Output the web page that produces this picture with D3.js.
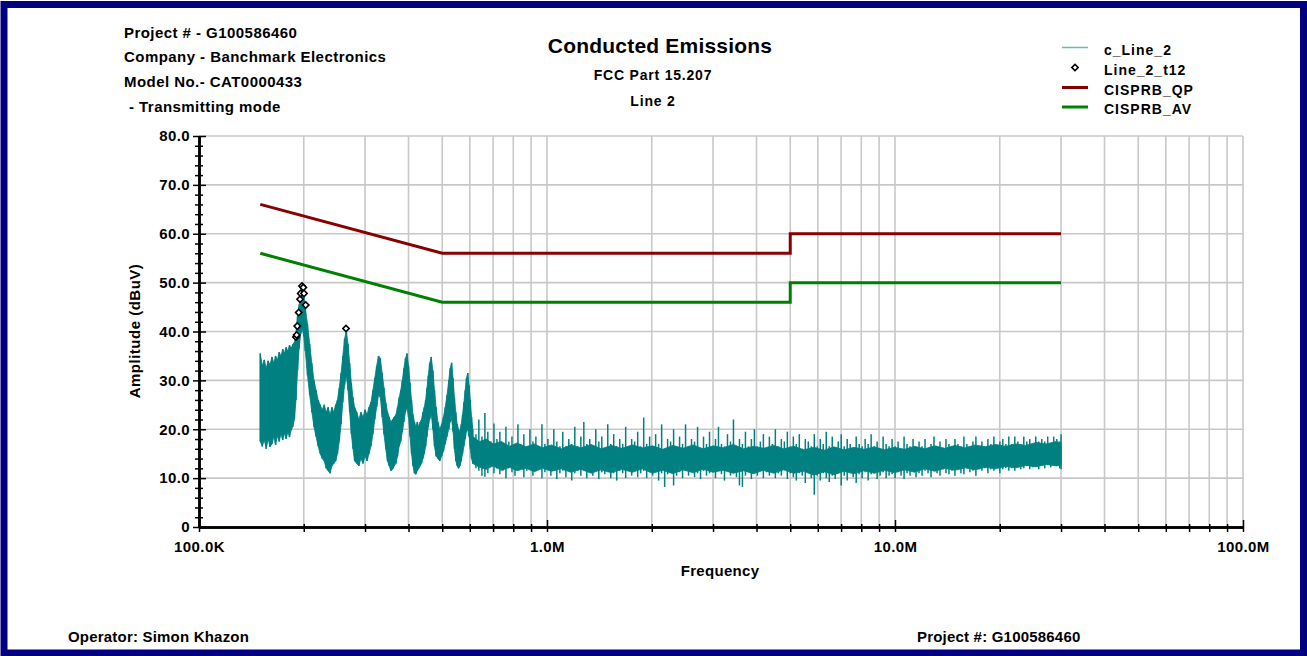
<!DOCTYPE html>
<html>
<head>
<meta charset="utf-8">
<script src="https://cdn.jsdelivr.net/npm/d3@7"></script>
<style>
  body { margin: 0; background: #fff; }
  svg text { font-family: "Liberation Sans", Arial, sans-serif; font-weight: bold; fill: #000; }
</style>
</head>
<body>
<svg id="chart" width="1307" height="656"></svg>
<script>
// header / footer text
const headerLines = ['Project # - G100586460', 'Company - Banchmark Electronics', 'Model No.- CAT0000433', '- Transmitting mode'];
const titleLines = ['Conducted Emissions', 'FCC Part 15.207', 'Line 2'];
const footerLeft = 'Operator: Simon Khazon';
const footerRight = 'Project #: G100586460';

// axes
const yTicks = [0, 10, 20, 30, 40, 50, 60, 70, 80];
const yMinor = [2, 4, 6, 8, 12, 14, 16, 18, 22, 24, 26, 28, 32, 34, 36, 38, 42, 44, 46, 48, 52, 54, 56, 58, 62, 64, 66, 68, 72, 74, 76, 78];
const xTicks = [100, 1000, 10000, 100000]; // kHz
const xTickLabels = ['100.0K', '1.0M', '10.0M', '100.0M'];

// limit lines (kHz, dBuV)
const qpFreq = [150, 500, 500, 5000, 5000, 30000];
const qpLimit = [66, 56, 56, 56, 60, 60];
const avFreq = [150, 500, 500, 5000, 5000, 30000];
const avLimit = [56, 46, 46, 46, 50, 50];

// peak markers Line_2_t12
const markerFreq = [189.9, 190.8, 191.6, 193.4, 195.1, 196.0, 197.7, 199.4, 200.3, 202.6, 264.5];
const markerAmp = [38.9, 39.3, 41.1, 43.9, 46.6, 47.8, 49.3, 49.0, 47.8, 45.4, 40.6];

// c_Line_2 trace, read as upper / lower envelope, 150 kHz - 612 kHz
const peakFreq = [150, 152, 154, 156, 158, 160, 162, 164, 166, 168, 170, 172, 174, 176, 178, 180, 182, 184, 186, 188,
  190, 192, 194, 196, 198, 200, 202,
  205, 208, 211, 214, 217, 220, 223, 226, 229, 232, 235, 238, 241, 244, 247,
  250, 253, 256, 259, 262, 265, 268, 271, 274, 277, 280,
  284, 288, 292, 296, 300, 304, 308,
  312, 316, 320, 324, 328, 332, 336, 340, 344, 348, 352, 356, 360, 364, 368, 372, 376,
  380, 384, 388, 392, 396, 400, 404, 408, 412, 416, 420, 424, 428, 432, 436, 440,
  444, 448, 452, 456, 460, 465, 470, 475, 480,
  486, 492, 498, 504,
  510, 516, 522, 527, 532, 537, 542, 547, 552, 557, 562,
  567, 572, 577, 582, 587, 592, 597, 602, 607, 612];
const peakHi = [35.5, 33.0, 34.2, 32.5, 34.0, 33.2, 34.8, 33.6, 35.0, 34.2, 35.8, 35.0, 36.4, 35.6, 36.8, 36.0, 37.2, 36.6, 37.4, 37.8,
  40.0, 43.5, 45.5, 47.5, 48.5, 47.5, 45.0,
  41.5, 37.5, 33.5, 30.0, 28.0, 26.0, 25.0, 24.0, 25.0, 23.5, 24.5, 23.0, 24.5, 23.5, 25.0,
  26.0, 28.5, 31.5, 35.0, 38.5, 40.2, 37.5, 33.5, 29.5, 26.5, 24.5,
  23.5, 22.0, 23.5, 22.5, 24.0, 23.0, 24.5,
  25.5, 28.0, 30.5, 33.0, 35.0, 34.5, 31.5, 28.5, 25.5, 23.5, 22.5, 21.5, 22.0, 22.5, 23.0, 24.5, 26.5,
  28.0, 30.0, 32.5, 34.5, 35.5, 33.0, 29.5, 26.0, 23.0, 21.5, 20.5, 21.5, 20.5, 21.5, 22.0, 23.5,
  24.5, 26.0, 28.5, 31.0, 33.5, 34.8, 32.0, 28.0, 24.5,
  21.5, 20.0, 21.0, 22.5,
  24.5, 27.0, 30.0, 32.5, 33.6, 30.5, 26.5, 23.5, 21.0, 20.0, 19.5,
  21.0, 23.0, 25.5, 28.0, 30.5, 31.5, 29.0, 26.0, 22.5, 20.0];
const peakLo = [17.5, 16.5, 17.8, 16.0, 18.0, 16.4, 17.0, 18.4, 16.8, 18.6, 17.5, 19.0, 17.8, 19.2, 18.0, 19.4, 18.4, 19.8, 20.5, 22.0,
  26.0, 32.0, 36.5, 39.5, 40.5, 39.0, 36.0,
  31.0, 27.0, 23.5, 20.5, 18.5, 16.5, 15.0, 14.0, 13.5, 12.0, 11.5, 11.0, 12.5, 13.0, 13.5,
  15.0, 17.5, 21.0, 25.5, 29.0, 31.0, 28.0, 23.5, 19.0, 16.0, 13.5,
  13.0, 12.5, 14.0, 13.0, 14.5, 13.5, 15.0,
  16.5, 19.0, 22.0, 24.5, 27.0, 26.5, 22.5, 19.0, 16.0, 13.5, 12.5, 11.5, 11.8, 12.5, 13.0, 14.5, 16.5,
  17.5, 19.5, 21.5, 23.5, 24.5, 22.5, 18.5, 15.0, 12.5, 11.0, 10.8, 11.5, 12.0, 12.5, 13.0, 14.0,
  15.0, 16.5, 18.5, 20.5, 22.0, 23.0, 20.0, 16.5, 14.5,
  14.0, 13.5, 14.5, 15.5,
  17.0, 18.5, 20.0, 21.5, 22.0, 19.5, 16.0, 13.5, 12.5, 12.0, 12.5,
  13.5, 15.0, 16.5, 18.0, 19.5, 20.0, 18.5, 16.0, 14.0, 13.0];

// noise floor, solid core of the trace from 612 kHz to 30 MHz
const coreFreq = [612, 640, 670, 700, 740, 780, 820, 870, 920, 970,
  1030, 1100, 1170, 1250, 1340, 1430, 1530, 1640, 1760, 1880,
  2010, 2150, 2300, 2460, 2630, 2810, 3000, 3210, 3430, 3670,
  3920, 4190, 4480, 4790, 5120, 5470, 5850, 6250, 6680, 7140,
  7630, 8160, 8720, 9320, 9960, 10650, 11380, 12170, 13010, 13910,
  14870, 15900, 17000, 18180, 19440, 20790, 22230, 23770, 25420, 27180,
  29060, 30000];
const coreHi = [18.5, 17.5, 18.0, 17.0, 17.5, 16.5, 17.2, 16.4, 17.0, 16.2,
  16.8, 16.0, 16.8, 16.2, 16.9, 16.0, 16.7, 16.1, 16.8, 16.2,
  16.6, 15.9, 16.7, 16.1, 16.8, 16.0, 16.6, 16.2, 16.9, 16.0,
  16.5, 16.1, 16.7, 16.0, 16.5, 15.8, 16.3, 15.7, 16.4, 15.8,
  16.3, 15.9, 16.4, 15.8, 16.3, 15.9, 16.5, 16.0, 16.6, 16.1,
  16.7, 16.2, 16.8, 16.4, 16.9, 16.5, 17.0, 16.7, 17.3, 17.0,
  17.5, 17.2];
const coreLo = [13.0, 12.2, 11.8, 12.5, 11.6, 12.2, 11.5, 12.0, 11.3, 12.0,
  11.4, 11.9, 11.2, 11.8, 11.0, 11.7, 11.1, 11.8, 11.2, 11.9,
  11.0, 11.6, 10.9, 11.7, 11.1, 11.8, 11.2, 11.6, 11.0, 11.5,
  10.9, 11.6, 11.0, 11.7, 11.0, 11.4, 10.6, 11.3, 10.7, 11.4,
  10.9, 11.5, 11.0, 11.6, 11.1, 11.7, 11.2, 11.9, 11.4, 12.0,
  11.6, 12.1, 11.7, 12.2, 11.9, 12.4, 12.1, 12.6, 12.3, 12.8,
  12.5, 12.6];

// noise floor spikes, 625 kHz - 30 MHz (upper / lower extremes)
const noiseFreq = [625, 637, 650, 663, 676, 690, 704, 718, 732,
  747, 762, 777, 793, 809, 825, 841, 858, 875, 893,
  911, 929, 948, 967, 986, 1006, 1026, 1046, 1067, 1089,
  1110, 1133, 1155, 1178, 1202, 1226, 1251, 1276, 1301, 1327,
  1354, 1381, 1409, 1437, 1466, 1495, 1525, 1555, 1586, 1618,
  1650, 1683, 1717, 1751, 1786, 1822, 1859, 1896, 1934, 1972,
  2012, 2052, 2093, 2135, 2178, 2221, 2266, 2311, 2357, 2404,
  2452, 2501, 2551, 2602, 2655, 2708, 2762, 2817, 2873, 2931,
  2990, 3049, 3110, 3172, 3236, 3301, 3367, 3434, 3503, 3573,
  3644, 3717, 3791, 3867, 3945, 4024, 4104, 4186, 4270, 4355,
  4442, 4531, 4622, 4714, 4809, 4905, 5003, 5103, 5205, 5309,
  5415, 5524, 5634, 5747, 5862, 5979, 6099, 6221, 6345, 6472,
  6601, 6733, 6868, 7005, 7146, 7289, 7434, 7583, 7735, 7889,
  8047, 8208, 8372, 8540, 8711, 8885, 9063, 9244, 9429, 9617,
  9810, 10006, 10206, 10410, 10618, 10831, 11047, 11268, 11494, 11724,
  11958, 12197, 12441, 12690, 12944, 13203, 13467, 13736, 14011, 14291,
  14577, 14869, 15166, 15469, 15779, 16094, 16416, 16745, 17080, 17421,
  17770, 18125, 18488, 18857, 19235, 19619, 20012, 20412, 20820, 21236,
  21661, 22094, 22536, 22987, 23447, 23916, 24394, 24882, 25379, 25887,
  26405, 26933, 27471, 28021, 28581, 29153, 29736, 30000];
const noiseHi = [19.0, 22.0, 18.5, 23.3, 19.5, 17.5, 21.2, 18.0, 19.5,
  17.0, 20.5, 17.5, 18.5, 16.5, 21.0, 17.0, 19.0, 16.5, 20.0,
  17.5, 18.5, 16.5, 21.0, 17.0, 18.0, 16.0, 20.0, 17.5, 16.5,
  19.5, 16.5, 18.0, 17.0, 20.5, 16.5, 18.5, 21.5, 17.0, 18.0,
  16.5, 20.0, 17.5, 18.5, 16.0, 21.0, 17.0, 19.0, 16.5, 18.0,
  17.0, 20.5, 16.5, 18.0, 17.5, 19.5, 16.5, 22.4, 17.0, 18.5,
  16.5, 19.0, 17.0, 21.0, 16.0, 18.0, 17.5, 20.0, 16.5, 18.5,
  17.0, 21.0, 16.5, 18.0, 17.5, 20.5, 16.0, 18.5, 17.0, 19.5,
  16.5, 18.0, 20.5, 17.0, 16.5, 19.0, 17.5, 22.0, 16.5, 18.0,
  17.0, 19.5, 16.5, 18.0, 20.0, 16.5, 17.5, 19.0, 16.0, 18.5,
  17.0, 20.0, 16.5, 18.0, 17.5, 19.5, 16.5, 18.5, 17.0, 19.0,
  16.0, 18.0, 17.5, 16.5, 19.0, 16.5, 18.0, 17.0, 19.5, 16.5,
  18.5, 16.0, 17.5, 19.0, 16.5, 18.0, 17.0, 16.0, 18.5, 17.0,
  16.5, 18.0, 17.0, 19.0, 16.5, 17.5, 16.0, 18.5, 17.0, 16.5,
  18.0, 16.5, 17.5, 16.0, 18.5, 17.0, 16.5, 18.0, 16.0, 17.5,
  16.5, 18.0, 16.0, 17.0, 18.5, 16.5, 17.5, 16.0, 18.0, 17.0,
  16.5, 18.0, 17.0, 16.5, 18.5, 17.0, 16.0, 17.5, 18.5, 16.5,
  17.5, 16.5, 18.0, 17.0, 18.5, 16.5, 17.5, 18.0, 17.0, 18.5,
  17.0, 18.5, 17.5, 17.0, 18.5, 17.5, 18.0, 17.0, 18.5, 17.5,
  18.0, 17.5, 18.5, 17.0, 18.5, 18.0, 17.5, 19.0];
const noiseLo = [12.0, 11.5, 10.5, 10.3, 11.0, 12.5, 11.0, 12.0, 10.8,
  11.5, 10.0, 12.0, 11.2, 10.5, 11.8, 12.0, 10.2, 11.5, 12.2,
  10.5, 11.5, 12.0, 10.0, 11.2, 11.8, 10.5, 11.5, 9.8, 11.0,
  11.5, 10.2, 11.8, 9.5, 11.0, 11.5, 10.5, 11.8, 10.0, 11.2,
  10.5, 11.5, 9.8, 11.2, 10.8, 11.5, 10.0, 11.0, 9.5, 11.5,
  11.0, 10.0, 11.5, 10.5, 11.8, 10.2, 11.0, 11.5, 10.0, 11.2,
  10.5, 11.5, 9.5, 11.0, 8.2, 10.8, 11.5, 8.5, 10.5, 11.2,
  10.0, 11.5, 10.5, 11.8, 10.2, 11.0, 9.8, 11.5, 10.5, 11.0,
  11.2, 10.0, 11.5, 10.8, 9.5, 11.5, 10.5, 11.0, 10.2, 8.5,
  8.2, 10.5, 11.5, 9.8, 11.0, 10.5, 11.8, 10.0, 11.2, 10.5,
  11.5, 10.0, 11.0, 10.5, 11.8, 9.8, 11.0, 10.2, 9.5, 11.0,
  10.5, 9.0, 11.0, 10.0, 6.6, 10.5, 9.5, 11.0, 10.0, 9.2,
  10.5, 9.8, 11.0, 8.5, 10.5, 9.5, 11.0, 10.2, 9.0, 10.8,
  10.0, 11.2, 9.5, 10.8, 11.0, 9.8, 10.5, 11.2, 10.0, 10.5,
  10.8, 10.0, 11.2, 10.5, 9.8, 11.0, 10.5, 11.5, 10.2, 11.0,
  10.5, 11.5, 11.0, 10.2, 11.5, 11.0, 10.5, 11.8, 11.0, 10.8,
  11.5, 10.5, 11.8, 11.0, 10.8, 12.0, 11.2, 11.5, 10.5, 11.8,
  11.5, 12.0, 11.0, 11.8, 11.5, 12.2, 11.0, 11.8, 12.0, 11.5,
  12.0, 11.5, 12.2, 11.8, 12.0, 12.5, 11.8, 12.2, 12.5, 11.8,
  12.5, 12.0, 12.8, 12.2, 12.5, 12.8, 12.0, 11.8];

// legend
const legendNames = ['c_Line_2', 'Line_2_t12', 'CISPRB_QP', 'CISPRB_AV'];
const legendColors = ['#6fb7b7', '#000', '#880000', '#008000'];
const traceColor = '#008080';

const svg = d3.select('#chart');
const plot = { left: 199, right: 1243, top: 136, bottom: 527 };

const x = d3.scaleLog().domain([100, 100000]).range([plot.left, plot.right]);
const y = d3.scaleLinear().domain([0, 80]).range([plot.bottom, plot.top]);

// frame
svg.append('rect')
  .attr('x', 4).attr('y', 4.5)
  .attr('width', 1299.5).attr('height', 648.5)
  .attr('fill', 'none')
  .attr('stroke', '#000080')
  .attr('stroke-width', 7);

// grid
const grid = svg.append('g').attr('stroke', '#c8c8c8').attr('stroke-width', 1.6);
grid.selectAll('line.h')
  .data(yTicks.filter(d => d > 0))
  .join('line')
  .attr('x1', plot.left).attr('x2', plot.right)
  .attr('y1', d => y(d)).attr('y2', d => y(d));
grid.selectAll('line.v')
  .data(x.ticks().filter(d => d > 100))
  .join('line')
  .attr('x1', d => x(d)).attr('x2', d => x(d))
  .attr('y1', plot.top).attr('y2', plot.bottom);

// trace
const peakTrace = peakFreq.map((f, i) => ({ f, hi: peakHi[i], lo: peakLo[i] }));
const coreTrace = coreFreq.map((f, i) => ({ f, hi: coreHi[i], lo: coreLo[i] }));
const noiseTrace = noiseFreq.map((f, i) => ({ f, hi: noiseHi[i], lo: noiseLo[i] }));

const area = d3.area()
  .x(d => x(d.f))
  .y0(d => y(d.lo))
  .y1(d => y(d.hi));

const traceG = svg.append('g');
[peakTrace, coreTrace].forEach(seg => {
  traceG.append('path')
    .datum(seg)
    .attr('d', area)
    .attr('fill', traceColor)
    .attr('stroke', traceColor)
    .attr('stroke-width', 0.8);
});
traceG.selectAll('line.spike')
  .data(peakTrace.concat(noiseTrace))
  .join('line')
  .attr('class', 'spike')
  .attr('x1', d => x(d.f)).attr('x2', d => x(d.f))
  .attr('y1', d => y(d.hi)).attr('y2', d => y(d.lo))
  .attr('stroke', traceColor)
  .attr('stroke-width', 1.5);

// limit lines
const limLine = d3.line().x(d => x(d[0])).y(d => y(d[1]));
svg.append('path')
  .datum(qpFreq.map((f, i) => [f, qpLimit[i]]))
  .attr('d', limLine)
  .attr('fill', 'none')
  .attr('stroke', legendColors[2])
  .attr('stroke-width', 3);
svg.append('path')
  .datum(avFreq.map((f, i) => [f, avLimit[i]]))
  .attr('d', limLine)
  .attr('fill', 'none')
  .attr('stroke', legendColors[3])
  .attr('stroke-width', 3);

// markers
const diamond = d3.symbol().type(d3.symbolSquare).size(20);
svg.selectAll('path.marker')
  .data(markerFreq.map((f, i) => [f, markerAmp[i]]))
  .join('path')
  .attr('class', 'marker')
  .attr('d', diamond)
  .attr('transform', d => `translate(${x(d[0])},${y(d[1])}) rotate(45)`)
  .attr('fill', '#fff')
  .attr('stroke', '#000')
  .attr('stroke-width', 1.6);

// y axis
const yAxisG = svg.append('g').attr('transform', `translate(${plot.left},0)`);
yAxisG.append('g')
  .call(d3.axisLeft(y).tickValues(yTicks).tickSize(6).tickSizeOuter(0).tickPadding(3)
    .tickFormat(d => d === 0 ? '0' : d.toFixed(1)))
  .call(g => g.selectAll('text').attr('font-size', 15).attr('letter-spacing', 0.4)
    .attr('font-family', '"Liberation Sans", Arial, sans-serif').attr('font-weight', 'bold'));
yAxisG.append('g')
  .call(d3.axisRight(y).tickValues(yTicks).tickSize(7).tickSizeOuter(0).tickFormat(''));
yAxisG.append('g')
  .call(d3.axisLeft(y).tickValues(yMinor).tickSize(4).tickSizeOuter(0).tickFormat(''));
yAxisG.append('g')
  .call(d3.axisRight(y).tickValues(yMinor).tickSize(4).tickSizeOuter(0).tickFormat(''));

// x axis
const xAxisG = svg.append('g').attr('transform', `translate(0,${plot.bottom})`);
xAxisG.append('g')
  .call(d3.axisBottom(x).tickValues(xTicks).tickSize(5).tickSizeOuter(0).tickPadding(9)
    .tickFormat((d, i) => xTickLabels[i]))
  .call(g => g.selectAll('text').attr('font-size', 15).attr('letter-spacing', 0.4)
    .attr('font-family', '"Liberation Sans", Arial, sans-serif').attr('font-weight', 'bold'));
xAxisG.append('g')
  .call(d3.axisTop(x).tickValues(xTicks).tickSize(7).tickSizeOuter(0).tickFormat(''));
xAxisG.append('g')
  .call(d3.axisBottom(x).tickValues(x.ticks().filter(d => !xTicks.includes(d))).tickSize(5).tickSizeOuter(0).tickFormat(''));
xAxisG.append('g')
  .call(d3.axisTop(x).tickValues(x.ticks().filter(d => !xTicks.includes(d))).tickSize(3).tickSizeOuter(0).tickFormat(''));

svg.selectAll('.domain').attr('stroke', '#000').attr('stroke-width', 2);
svg.selectAll('.tick line').attr('stroke', '#000').attr('stroke-width', 1.5);

// axis titles
svg.append('text')
  .attr('transform', 'translate(140,331) rotate(-90)')
  .attr('text-anchor', 'middle')
  .attr('font-size', 15)
  .attr('letter-spacing', 0.5)
  .text('Amplitude (dBuV)');
svg.append('text')
  .attr('x', 720).attr('y', 576)
  .attr('text-anchor', 'middle')
  .attr('font-size', 15)
  .attr('letter-spacing', 0.3)
  .text('Frequency');

// header
svg.selectAll('text.header')
  .data(headerLines)
  .join('text')
  .attr('class', 'header')
  .attr('x', (d, i) => i === 3 ? 129 : 124)
  .attr('y', (d, i) => 37.5 + i * 24.7)
  .attr('font-size', 15)
  .attr('letter-spacing', 0.45)
  .text(d => d);

svg.append('text')
  .attr('x', 660).attr('y', 52.5)
  .attr('text-anchor', 'middle')
  .attr('font-size', 21)
  .attr('letter-spacing', 0.2)
  .text(titleLines[0]);
svg.append('text')
  .attr('x', 653).attr('y', 80)
  .attr('text-anchor', 'middle')
  .attr('font-size', 14)
  .attr('letter-spacing', 0.8)
  .text(titleLines[1]);
svg.append('text')
  .attr('x', 653).attr('y', 106)
  .attr('text-anchor', 'middle')
  .attr('font-size', 14)
  .attr('letter-spacing', 0.8)
  .text(titleLines[2]);

// legend
const legendY = [47.5, 67.5, 87.5, 107];
const legend = svg.append('g');
legendNames.forEach((name, i) => {
  if (i === 1) {
    legend.append('path')
      .attr('d', diamond)
      .attr('transform', `translate(1075,${legendY[i]}) rotate(45)`)
      .attr('fill', '#fff')
      .attr('stroke', '#000')
      .attr('stroke-width', 1.6);
  } else {
    legend.append('line')
      .attr('x1', 1062).attr('x2', 1088)
      .attr('y1', legendY[i]).attr('y2', legendY[i])
      .attr('stroke', legendColors[i])
      .attr('stroke-width', i === 0 ? 1.5 : 3);
  }
  legend.append('text')
    .attr('x', 1104).attr('y', legendY[i] + 7)
    .attr('font-size', 14)
    .attr('letter-spacing', 1)
    .text(name);
});

// footer
svg.append('text')
  .attr('x', 68).attr('y', 642)
  .attr('font-size', 15)
  .attr('letter-spacing', 0.2)
  .text(footerLeft);
svg.append('text')
  .attr('x', 917).attr('y', 642)
  .attr('font-size', 15)
  .attr('letter-spacing', 0.2)
  .text(footerRight);
</script>
</body>
</html>
